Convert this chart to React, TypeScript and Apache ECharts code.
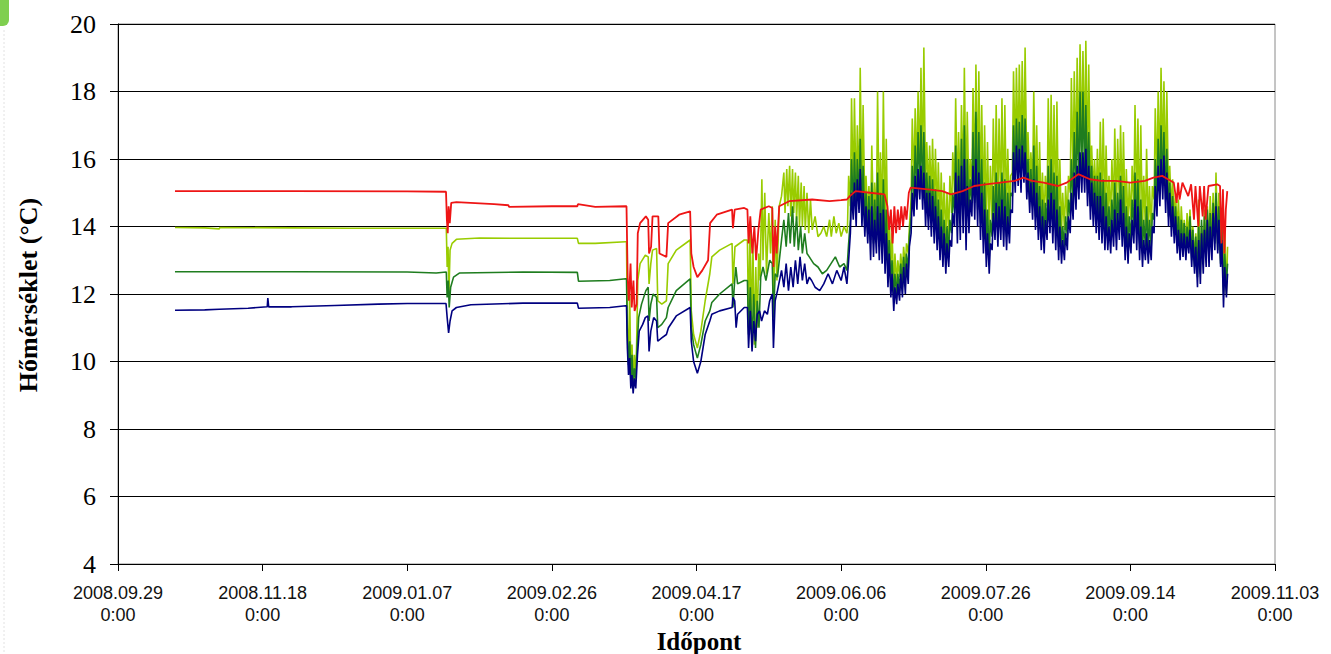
import React, { useEffect, useRef } from "react";
import * as echarts from "echarts";

// x values are days since 2008.09.29 0:00
const axisStartUTC = Date.UTC(2008, 8, 29);
const xMin = 0;
const xMax = 400;
const xStep = 50;
const yMin = 4;
const yMax = 20;
const yStep = 2;

const yTitle = "Hőmérséklet (°C)";
const xTitle = "Időpont";

// ---- Winter (flat) period: [day, °C]
const redWinter = [[19.7, 15.05], [60, 15.05], [100, 15.04], [113.4, 15.03], [113.7, 14.2], [114.0, 13.8], [114.3, 14.6], [114.7, 14.1], [115.2, 14.7], [117, 14.72], [130, 14.66], [135, 14.63], [135.2, 14.58], [150, 14.6], [158.8, 14.6], [159, 14.66], [165, 14.58], [175.5, 14.6]];
const lightGreenWinter = [[19.7, 13.97], [30, 13.96], [35, 13.93], [35.2, 13.97], [60, 13.96], [80, 13.95], [113.5, 13.95], [113.8, 12.8], [114.1, 13.4], [114.4, 12.0], [114.8, 13.3], [115.5, 13.5], [117, 13.62], [125, 13.66], [140, 13.65], [158.8, 13.65], [159.2, 13.5], [165, 13.5], [175.5, 13.55]];
const darkGreenWinter = [[19.7, 12.66], [60, 12.66], [100, 12.65], [110, 12.62], [113.5, 12.65], [113.8, 11.9], [114.2, 12.4], [114.5, 11.6], [115, 12.2], [116, 12.5], [118, 12.62], [140, 12.65], [158.8, 12.64], [159.2, 12.38], [170, 12.4], [175.5, 12.45]];
const navyWinter = [[19.7, 11.52], [30, 11.53], [35, 11.55], [45, 11.58], [51.6, 11.62], [51.8, 11.88], [52.1, 11.62], [60, 11.62], [75, 11.66], [90, 11.7], [100, 11.72], [113.4, 11.72], [113.8, 11.3], [114.3, 10.85], [114.8, 11.2], [115.5, 11.5], [117, 11.6], [122, 11.68], [140, 11.73], [158.8, 11.73], [159.2, 11.58], [170, 11.6], [175.5, 11.65]];

// ---- Spring period: [day, °C]
const redSpring = [[175.8, 14.6], [176.2, 12.5], [176.6, 11.8], [177.2, 12.9], [177.6, 11.6], [178.2, 12.4], [178.6, 11.5], [179.3, 11.7], [179.7, 13.8], [180.5, 14.1], [182.5, 14.3], [183.3, 14.2], [183.6, 13.2], [184.3, 13.4], [184.8, 14.3], [186.8, 14.3], [187.2, 13.2], [189.6, 13.1], [190.2, 14.1], [194, 14.35], [197.8, 14.45], [198.2, 13.2], [199, 12.8], [200.3, 12.5], [202, 12.7], [204, 13.0], [204.7, 14.1], [207, 14.35], [212.3, 14.5], [212.6, 13.95], [213.2, 14.5], [216.5, 14.55], [217.6, 14.5], [218, 13.5], [218.6, 14.3], [219.3, 13.2], [220, 14.0], [220.6, 13.0], [221.4, 13.9], [222.2, 14.5], [225, 14.6], [226.2, 14.55], [226.6, 12.8], [227.2, 14.0], [227.7, 13.2], [228.6, 14.6], [232, 14.75], [240, 14.8], [246, 14.75], [250, 14.78], [252, 14.8]];
const lightGreenSpring = [[175.8, 13.55], [176.1, 11.0], [176.5, 10.0], [176.9, 12.0], [177.3, 9.6], [177.7, 10.5], [178.1, 9.3], [178.5, 10.2], [178.9, 9.4], [179.3, 10.5], [179.7, 12.4], [180.5, 12.9], [182.3, 13.15], [183.3, 13.1], [183.6, 12.3], [184.2, 12.9], [184.8, 13.3], [186.2, 13.35], [186.6, 11.8], [188, 11.7], [189.6, 11.8], [190.2, 12.9], [193, 13.3], [197.8, 13.6], [198.2, 11.5], [199, 10.8], [200.3, 10.4], [201.5, 10.9], [203, 11.8], [204.6, 12.6], [205.3, 13.1], [208, 13.3], [212.3, 13.5], [212.6, 12.3], [213.3, 13.4], [216.5, 13.6], [217.6, 13.6], [218, 11.0], [218.5, 14.0], [219, 10.8], [219.5, 13.5], [220, 10.5], [220.5, 12.8], [221, 11.0], [221.5, 13.2], [222, 12.4], [222.6, 15.4], [223, 13.0], [223.6, 15.0], [224.2, 12.6], [225, 14.4], [225.6, 13.2], [226.2, 14.6], [226.6, 11.2], [227.2, 14.2], [227.8, 12.4], [228.6, 14.6], [229.4, 14.9], [230.2, 15.6], [230.6, 14.4], [231.2, 15.7], [231.6, 14.6], [232.2, 15.8], [232.6, 14.3], [233.2, 15.7], [233.6, 14.4], [234.2, 15.6], [234.6, 14.2], [235.2, 15.5], [235.6, 14.0], [236.2, 15.3], [236.6, 14.0], [237.2, 15.2], [237.6, 13.9], [238.2, 15.0], [238.8, 13.8], [239.4, 14.8], [240, 13.9], [241, 14.3], [242, 13.7], [243, 13.8], [244, 14.0], [245, 13.7], [246, 14.2], [246.6, 13.7], [247.5, 14.3], [248.3, 13.8], [249.2, 14.1], [250, 13.7], [251, 14.0], [252, 13.8]];
const darkGreenSpring = [[175.8, 12.45], [176.1, 10.8], [176.5, 9.9], [176.9, 10.6], [177.3, 9.5], [177.7, 10.2], [178.1, 9.2], [178.5, 9.8], [179, 9.5], [179.5, 10.5], [180, 11.3], [181, 11.7], [182.5, 12.1], [183.3, 12.2], [183.6, 11.2], [184.2, 11.7], [185, 12.0], [186.2, 11.9], [186.6, 11.0], [188, 11.1], [189.6, 11.3], [190.2, 11.6], [193, 12.1], [197.8, 12.45], [198.2, 11.0], [199, 10.5], [200.3, 10.1], [201.5, 10.5], [203, 11.2], [204.6, 11.5], [205.3, 11.75], [208, 12.0], [212.3, 12.3], [212.6, 11.6], [213.2, 12.4], [213.6, 12.8], [214.2, 12.3], [216.5, 12.4], [217.6, 12.4], [218, 10.8], [218.6, 12.2], [219.2, 10.6], [219.8, 12.0], [220.4, 10.4], [221, 11.8], [221.6, 11.0], [222.2, 12.5], [223, 12.8], [224, 12.4], [225.3, 13.0], [226.2, 12.9], [226.6, 11.3], [227.2, 12.6], [228, 12.5], [229.4, 13.6], [230.2, 14.2], [231, 13.4], [231.8, 14.4], [232.4, 13.5], [233.2, 14.6], [233.8, 13.4], [234.6, 14.3], [235.2, 13.3], [236, 14.0], [236.6, 13.2], [237.4, 13.8], [238.2, 13.2], [239, 13.1], [240.5, 12.9], [242, 12.8], [243.5, 12.6], [245, 12.7], [246.5, 12.9], [248, 13.1], [249.5, 12.8], [251, 12.9], [252, 12.7]];
const navySpring = [[175.8, 11.65], [176.1, 10.4], [176.5, 9.6], [176.9, 10.1], [177.3, 9.2], [177.7, 9.6], [178.1, 9.05], [178.5, 9.5], [179, 9.2], [179.6, 10.2], [180.2, 10.9], [181.4, 11.1], [182.3, 11.3], [183.2, 11.35], [183.6, 10.3], [184.2, 10.9], [185.2, 11.3], [186.2, 11.2], [186.6, 10.6], [188, 10.7], [189.6, 10.8], [190.3, 11.0], [193, 11.35], [197.8, 11.6], [198.2, 10.6], [199, 10.0], [200.3, 9.65], [201.5, 10.0], [203, 10.8], [204.6, 11.2], [205.3, 11.4], [208, 11.5], [212.3, 11.6], [212.6, 11.9], [213.2, 11.8], [213.7, 11.0], [214.2, 11.4], [216.5, 11.6], [217.6, 11.6], [218, 10.4], [218.6, 11.5], [219.2, 10.3], [219.8, 11.2], [220.4, 10.6], [221, 11.4], [221.8, 11.5], [222.5, 11.2], [223.5, 11.5], [224.5, 11.4], [225.3, 11.8], [226.2, 12.0], [226.6, 10.4], [227.2, 11.8], [228, 12.1], [229.4, 12.7], [230.2, 12.2], [231, 12.9], [231.8, 12.1], [232.6, 12.8], [233.4, 12.2], [234.2, 13.0], [235, 12.3], [235.8, 13.1], [236.6, 12.4], [237.4, 12.9], [238.2, 12.3], [239, 12.5], [239.8, 12.4], [241, 12.2], [242.6, 12.1], [244, 12.3], [245.5, 12.6], [247, 12.3], [248.5, 12.7], [250, 12.4], [251, 12.8], [252, 12.3]];

// ---- Summer: red as [day, °C]; others as daily low / high from day 252 onward
const summerStart = 252;
const redSummer = [[253, 14.9], [255, 15.05], [260, 15.0], [265, 14.95], [266, 14.6], [266.6, 13.9], [267.2, 14.5], [267.8, 13.5], [268.4, 14.6], [269, 13.8], [269.6, 14.5], [270.2, 13.9], [270.8, 14.6], [271.4, 14.0], [272, 14.6], [272.6, 14.2], [273.4, 15.0], [274, 15.15], [280, 15.1], [285, 15.05], [288, 14.95], [292, 15.05], [296, 15.2], [300, 15.25], [305, 15.3], [310, 15.35], [313, 15.45], [316, 15.35], [320, 15.3], [325, 15.2], [328, 15.3], [332, 15.55], [336, 15.4], [340, 15.35], [345, 15.35], [350, 15.3], [355, 15.35], [358, 15.45], [361, 15.5], [363, 15.4], [365, 15.3], [366, 14.7], [366.5, 15.3], [367, 14.8], [368, 15.3], [370, 14.9], [371, 15.25], [372, 14.2], [372.5, 15.2], [373.5, 14.0], [374, 15.2], [375, 14.3], [375.5, 15.2], [376, 14.2], [377, 15.2], [380, 15.25], [381, 15.2], [381.5, 13.5], [382, 15.1], [382.5, 13.2], [383, 14.5], [383.5, 15.05]];

const lightGreenSummerLow = [
  14.0, 14.6, 14.9, 14.7, 15.0, 14.8,
  14.5, 14.3, 14.2, 14.0, 14.2, 14.0, 14.1, 13.8,
  13.2, 12.8, 12.2, 12.3, 12.5, 12.6, 12.8, 13.2,
  14.8, 15.3, 15.6, 15.8, 15.6, 15.2, 15.0, 14.8, 14.5, 14.3, 14.0, 13.8, 13.6, 13.7,
  14.4, 15.0, 14.8, 15.0, 15.2, 14.8, 14.8, 15.2, 15.4, 15.2, 14.8, 14.4, 14.0, 13.8,
  14.2, 14.6, 14.5, 14.7, 14.5, 14.2, 14.3,
  15.6, 16.0, 16.1, 16.0, 16.0, 15.6, 15.2, 15.2, 14.8, 14.4, 14.2, 14.1, 14.6, 14.8,
  14.6, 14.4, 14.0, 13.8, 13.9, 14.2,
  15.0, 15.4, 15.7, 16.0, 16.2, 16.2, 15.8, 15.2, 14.9, 14.8, 14.7, 14.6, 14.3, 14.2,
  14.2, 14.5, 14.4, 14.7, 14.5, 14.0, 13.9, 14.2, 14.6, 14.5, 14.1, 13.8, 13.9, 13.8, 13.9,
  14.8, 15.3, 15.6, 15.8, 15.4, 14.8, 14.4, 14.1,
  13.8, 13.6, 13.6, 13.5, 13.7, 13.3, 13.0, 12.8, 12.9, 13.2, 13.4, 13.4, 13.6, 13.8, 13.5, 13.0, 12.2, 12.0,
];
const lightGreenSummerHigh = [
  15.5, 17.8, 17.8, 17.0, 18.7, 17.6,
  15.5, 15.2, 16.4, 15.3, 18.0, 16.2, 18.0, 16.6,
  14.3, 13.8, 13.2, 13.0, 13.2, 13.4, 13.5, 14.0,
  17.2, 17.5, 18.0, 18.7, 19.3, 16.5, 16.4, 16.6, 16.3, 15.9, 15.6, 15.3, 15.0, 15.5,
  16.2, 17.8, 16.8, 17.6, 18.7, 17.4, 16.0, 18.1, 18.8, 18.6, 17.6, 17.0, 16.5, 15.8,
  17.2, 17.6, 17.2, 17.8, 17.6, 16.3, 15.5,
  18.6, 18.7, 18.8, 18.9, 19.3, 16.8, 16.2, 18.0, 17.0, 16.5, 15.6, 15.5, 17.8, 17.9,
  17.6, 17.7, 16.0, 15.0, 15.2, 15.5,
  18.4, 18.6, 19.0, 19.4, 19.2, 19.5, 18.8, 16.4, 16.0, 16.3, 17.1, 17.2, 16.4, 15.5,
  16.0, 16.9, 16.6, 17.0, 16.8, 15.7, 15.3, 15.8, 17.6, 17.2, 17.0, 15.5, 16.3, 15.2, 15.2,
  17.5, 18.0, 18.7, 18.3, 18.0, 15.8, 15.4, 15.0,
  14.8, 14.6, 14.2, 14.4, 14.5, 14.0, 13.8, 14.8, 14.0, 14.5, 14.6, 14.9, 15.0, 15.6, 15.0, 14.4, 14.0, 13.4,
];
const darkGreenSummerLow = [
  12.7, 14.2, 14.5, 14.4, 14.7, 14.3,
  14.0, 13.8, 13.6, 13.5, 13.6, 13.4, 13.4, 13.0,
  12.6, 12.3, 11.9, 12.0, 12.1, 12.2, 12.4, 12.7,
  14.3, 14.8, 15.0, 15.2, 15.0, 14.5, 14.4, 14.2, 14.0, 13.7, 13.4, 13.2, 13.0, 13.2,
  13.8, 14.4, 14.0, 14.2, 14.4, 13.8, 14.2, 14.7, 14.7, 14.5, 14.1, 13.7, 13.3, 13.1,
  13.7, 14.0, 13.9, 14.1, 13.9, 13.7, 13.9,
  14.9, 15.4, 15.6, 15.5, 15.6, 15.2, 14.8, 14.6, 14.3, 14.0, 13.7, 13.6, 14.0, 14.2,
  14.0, 13.8, 13.4, 13.3, 13.4, 13.7,
  14.3, 14.7, 15.0, 15.3, 15.5, 15.5, 15.1, 14.6, 14.4, 14.2, 14.1, 14.0, 13.7, 13.7,
  13.6, 13.9, 13.8, 14.1, 13.9, 13.4, 13.3, 13.6, 14.0, 13.8, 13.5, 13.2, 13.4, 13.3, 13.4,
  14.2, 14.7, 15.0, 15.2, 14.8, 14.3, 14.0, 13.8,
  13.5, 13.3, 13.3, 13.2, 13.4, 13.0, 12.8, 12.5, 12.6, 12.9, 13.1, 13.1, 13.3, 13.5, 13.3, 12.9, 12.0, 12.3,
];
const darkGreenSummerHigh = [
  13.5, 16.0, 16.2, 16.0, 16.6, 15.8,
  15.0, 14.9, 15.3, 14.8, 15.6, 15.0, 15.4, 14.5,
  13.6, 13.0, 12.6, 12.6, 12.9, 13.1, 13.2, 13.7,
  15.8, 16.4, 16.8, 17.0, 16.8, 15.6, 15.5, 15.4, 15.1, 14.8, 14.5, 14.2, 14.0, 14.2,
  15.0, 16.4, 16.0, 16.6, 17.0, 16.0, 15.4, 16.8, 17.4, 16.8, 16.0, 15.3, 14.5, 14.2,
  15.2, 15.6, 15.3, 15.6, 15.4, 15.0, 15.0,
  17.0, 17.2, 17.1, 17.3, 17.2, 16.0, 15.7, 16.4, 15.8, 15.2, 14.8, 14.7, 15.8, 16.0,
  15.6, 15.5, 14.6, 14.0, 14.3, 14.8,
  16.0, 16.8, 17.4, 18.0, 18.0, 17.6, 16.8, 15.8, 15.5, 15.5, 15.6, 15.4, 15.0, 14.6,
  14.8, 15.3, 15.0, 15.5, 15.2, 14.6, 14.3, 14.8, 15.6, 15.4, 14.8, 14.2, 14.6, 14.2, 14.4,
  16.0, 16.6, 17.0, 16.8, 16.3, 15.3, 14.9, 14.6,
  14.3, 14.2, 14.1, 14.0, 14.3, 13.9, 13.7, 14.0, 14.2, 14.3, 14.5, 14.4, 14.7, 15.0, 14.6, 14.0, 13.2, 12.9,
];
const navySummerLow = [
  12.3, 13.8, 14.2, 14.0, 14.4, 14.0,
  13.7, 13.5, 13.0, 13.1, 13.2, 13.0, 12.9, 12.6,
  12.2, 11.9, 11.5, 11.7, 11.8, 11.9, 12.0, 12.3,
  13.8, 14.3, 14.5, 14.8, 14.5, 14.0, 13.9, 13.7, 13.5, 13.3, 13.0, 12.8, 12.6, 12.8,
  13.4, 14.0, 13.5, 13.6, 13.8, 13.3, 13.8, 14.3, 14.2, 14.0, 13.6, 13.2, 12.8, 12.6,
  13.3, 13.6, 13.4, 13.6, 13.4, 13.3, 13.5,
  14.4, 15.0, 15.2, 15.0, 15.3, 14.8, 14.4, 14.2, 13.9, 13.6, 13.3, 13.2, 13.6, 13.8,
  13.5, 13.3, 13.0, 12.9, 13.0, 13.3,
  13.8, 14.2, 14.5, 14.8, 15.0, 15.0, 14.6, 14.2, 14.0, 13.8, 13.6, 13.5, 13.3, 13.3,
  13.2, 13.4, 13.3, 13.6, 13.4, 13.0, 12.9, 13.2, 13.5, 13.3, 13.0, 12.8, 13.0, 12.9, 13.0,
  13.8, 14.3, 14.6, 14.8, 14.4, 14.0, 13.7, 13.5,
  13.2, 13.0, 13.1, 13.0, 13.2, 12.8, 12.6, 12.2, 12.3, 12.6, 12.8, 12.8, 13.0, 13.3, 13.2, 12.8, 11.6, 11.9,
];
const navySummerHigh = [
  13.0, 15.0, 15.3, 15.4, 15.7, 15.0,
  14.6, 14.5, 14.6, 14.2, 14.6, 14.4, 14.5, 13.8,
  13.2, 12.6, 12.2, 12.3, 12.6, 12.8, 12.9, 13.4,
  15.0, 15.5, 15.7, 15.8, 15.6, 15.0, 15.0, 14.9, 14.6, 14.3, 14.0, 13.8, 13.5, 13.6,
  14.4, 15.6, 15.5, 15.8, 16.0, 15.2, 14.8, 15.8, 16.0, 15.6, 15.0, 14.5, 13.8, 13.5,
  14.4, 14.7, 14.6, 14.8, 14.6, 14.3, 14.5,
  16.2, 16.4, 16.3, 16.4, 16.2, 15.6, 15.3, 15.4, 15.0, 14.6, 14.3, 14.2, 14.8, 15.0,
  14.8, 14.5, 14.0, 13.6, 13.8, 14.3,
  15.0, 15.6, 15.8, 16.2, 16.2, 16.3, 15.8, 15.3, 15.0, 14.9, 14.9, 14.6, 14.3, 14.0,
  14.2, 14.5, 14.4, 14.8, 14.4, 14.0, 13.8, 14.2, 14.8, 14.6, 14.0, 13.6, 13.8, 13.6, 14.0,
  15.2, 15.8, 16.0, 16.1, 15.6, 15.0, 14.6, 14.3,
  13.9, 13.8, 13.8, 13.7, 13.9, 13.6, 13.4, 13.6, 13.8, 13.9, 14.2, 14.0, 14.4, 14.6, 14.2, 13.6, 12.8, 12.6,
];

const colors = {
  red: "#ee1515",
  lightGreen: "#99cc00",
  darkGreen: "#1f7d1f",
  navy: "#000080",
};

function dailyPoints(low: number[], high: number[]) {
  const pts: number[][] = [];
  low.forEach((l, i) => {
    pts.push([summerStart + i + 0.2, l]);
    pts.push([summerStart + i + 0.6, high[i]]);
  });
  return pts;
}

function fmtDate(v: number) {
  const d = new Date(axisStartUTC + Math.round(v) * 86400000);
  const p = (n: number) => (n < 10 ? "0" + n : "" + n);
  return d.getUTCFullYear() + "." + p(d.getUTCMonth() + 1) + "." + p(d.getUTCDate()) + "\n0:00";
}

export default function App() {
  const ref = useRef<HTMLDivElement>(null);
  useEffect(() => {
    if (!ref.current) return;
    const chart = echarts.init(ref.current, null, { renderer: "svg" });
    const lineSeries = (name: string, color: string, data: number[][], width: number) => ({
      name,
      type: "line",
      data,
      showSymbol: false,
      symbol: "none",
      lineStyle: { color, width },
      itemStyle: { color },
      z: 2,
    });
    chart.setOption({
      animation: false,
      backgroundColor: "#ffffff",
      grid: {
        left: 118,
        right: 56,
        top: 24,
        bottom: 90,
        show: true,
        borderColor: "#8a8a8a",
        borderWidth: 1,
      },
      xAxis: {
        type: "value",
        min: xMin,
        max: xMax,
        interval: xStep,
        axisLine: { show: true, onZero: false, lineStyle: { color: "#000", width: 1 } },
        axisTick: { show: true, length: 7, lineStyle: { color: "#000" } },
        splitLine: { show: false },
        axisLabel: {
          formatter: fmtDate,
          fontFamily: "Liberation Sans, Arial, sans-serif",
          fontSize: 18,
          color: "#111",
          lineHeight: 22,
          margin: 18,
          showMinLabel: true,
          showMaxLabel: true,
        },
      },
      yAxis: {
        type: "value",
        min: yMin,
        max: yMax,
        interval: yStep,
        axisLine: { show: true, lineStyle: { color: "#000", width: 1 } },
        axisTick: { show: true, length: 8, lineStyle: { color: "#000" } },
        splitLine: { show: true, lineStyle: { color: "#000", width: 1 } },
        axisLabel: {
          fontFamily: "Liberation Serif, Times New Roman, serif",
          fontSize: 26,
          color: "#000",
          margin: 22,
        },
      },
      graphic: [
        {
          type: "text",
          x: 28,
          y: 295,
          rotation: Math.PI / 2,
          style: {
            text: yTitle,
            font: 'bold 26px "Liberation Serif", "Times New Roman", serif',
            fill: "#000",
            align: "center",
            verticalAlign: "middle",
          },
        },
        {
          type: "text",
          x: 699,
          y: 641,
          style: {
            text: xTitle,
            font: 'bold 25px "Liberation Serif", "Times New Roman", serif',
            fill: "#000",
            align: "center",
            verticalAlign: "middle",
          },
        },
        {
          type: "line",
          shape: { x1: 4, y1: 30, x2: 4, y2: 654 },
          style: { stroke: "#e2e2e2", lineWidth: 1, lineDash: [2, 2] },
        },
        {
          type: "rect",
          shape: { x: 0, y: 0, width: 9, height: 26, r: [0, 0, 6, 0] },
          style: { fill: "#7fcf4f" },
        },
      ],
      series: [
        lineSeries("Sor 1", colors.lightGreen, [...lightGreenWinter, ...lightGreenSpring, ...dailyPoints(lightGreenSummerLow, lightGreenSummerHigh)], 1.6),
        lineSeries("Sor 2", colors.darkGreen, [...darkGreenWinter, ...darkGreenSpring, ...dailyPoints(darkGreenSummerLow, darkGreenSummerHigh)], 1.6),
        lineSeries("Sor 3", colors.navy, [...navyWinter, ...navySpring, ...dailyPoints(navySummerLow, navySummerHigh)], 1.6),
        lineSeries("Sor 4", colors.red, [...redWinter, ...redSpring, ...redSummer], 1.8),
      ],
    });
    return () => chart.dispose();
  }, []);
  return (
    <div
      ref={ref}
      style={{ position: "absolute", left: 0, top: 0, width: 1331, height: 654, background: "#fff" }}
    />
  );
}
